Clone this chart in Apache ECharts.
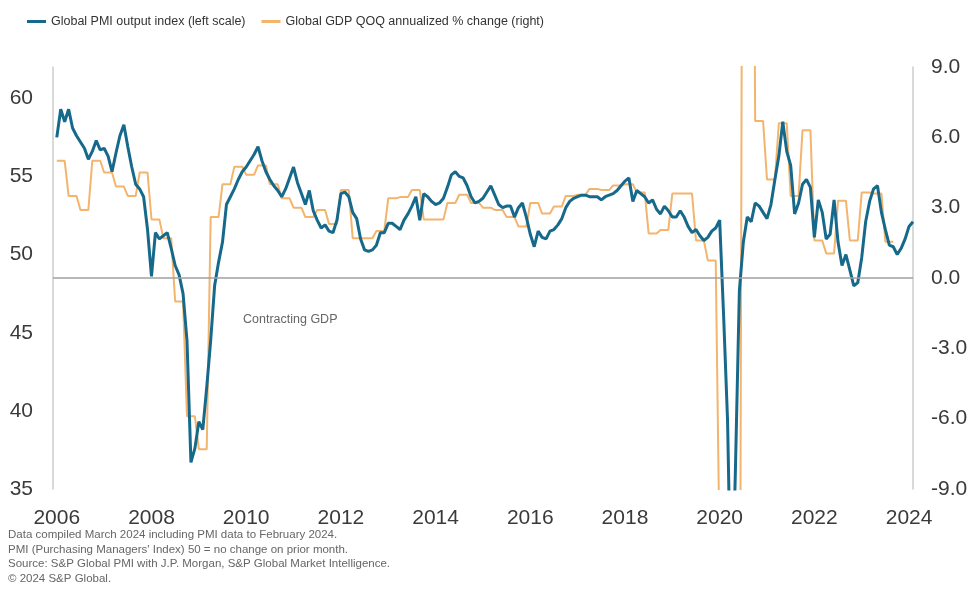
<!DOCTYPE html>
<html><head><meta charset="utf-8">
<script src="https://cdn.jsdelivr.net/npm/echarts@6/dist/echarts.min.js"></script>
<style>html,body{margin:0;padding:0;background:#fff}#c{width:973px;height:608px}</style>
</head><body><div id="c"></div>
<script>
// ---------------- DATA ----------------
const pmiName = 'Global PMI output index (left scale)';
const gdpName = 'Global GDP QOQ annualized % change (right)';
const xTickYears = [2006, 2008, 2010, 2012, 2014, 2016, 2018, 2020, 2022, 2024];
const leftTicks = [35, 40, 45, 50, 55, 60];
const rightTicks = [-9, -6, -3, 0, 3, 6, 9];

// Monthly PMI (Jan 2006 .. Feb 2024)
const pmi2006 = [57.5, 59.3, 58.5, 59.3, 58.1, 57.6, 57.2, 56.8, 56.1, 56.6, 57.3, 56.7];
const pmi2007 = [56.8, 56.3, 55.3, 56.5, 57.6, 58.3, 56.9, 55.6, 54.5, 54.2, 53.7, 51.6];
const pmi2008 = [48.6, 51.4, 51.0, 51.2, 51.4, 50.4, 49.3, 48.7, 47.5, 44.5, 36.7, 37.6];
const pmi2009 = [39.3, 38.8, 41.5, 44.5, 48.0, 49.5, 50.8, 53.2, 53.7, 54.2, 54.8, 55.3];
const pmi2010 = [55.6, 56.0, 56.4, 56.9, 56.0, 55.3, 54.8, 54.4, 54.1, 53.7, 54.2, 54.9];
const pmi2011 = [55.6, 54.6, 53.9, 53.2, 54.1, 52.8, 52.2, 51.7, 51.9, 51.5, 51.4, 52.2];
const pmi2012 = [53.9, 54.0, 53.7, 52.7, 52.3, 51.0, 50.3, 50.2, 50.3, 50.6, 51.4, 51.4];
const pmi2013 = [52.0, 52.0, 51.8, 51.6, 52.2, 52.6, 53.1, 53.7, 52.2, 53.9, 53.7, 53.4];
const pmi2014 = [53.2, 53.3, 53.6, 54.3, 55.1, 55.3, 55.0, 54.9, 54.4, 53.7, 53.3, 53.4];
const pmi2015 = [53.6, 54.0, 54.4, 53.8, 53.2, 53.0, 53.1, 53.1, 52.4, 53.0, 53.3, 52.4];
const pmi2016 = [51.3, 50.5, 51.5, 51.1, 51.0, 51.5, 51.6, 51.9, 52.3, 53.0, 53.4, 53.6];
const pmi2017 = [53.7, 53.8, 53.8, 53.7, 53.7, 53.7, 53.5, 53.7, 53.8, 53.9, 54.1, 54.4];
const pmi2018 = [54.7, 54.9, 53.4, 54.1, 53.9, 53.7, 53.3, 53.5, 52.9, 52.6, 53.1, 52.8];
const pmi2019 = [52.4, 52.4, 52.8, 52.4, 51.8, 51.4, 51.6, 51.2, 50.9, 51.1, 51.5, 51.7];
const pmi2020 = [52.2, 46.1, 39.4, 26.2, 36.3, 47.7, 50.8, 52.4, 52.1, 53.3, 53.1, 52.7];
const pmi2021 = [52.3, 53.2, 54.8, 56.3, 58.5, 56.6, 55.7, 52.6, 53.3, 54.5, 54.8, 54.3];
const pmi2022 = [51.1, 53.5, 52.7, 51.0, 51.3, 53.5, 50.8, 49.3, 50.0, 49.0, 48.0, 48.2];
const pmi2023 = [49.8, 52.1, 53.4, 54.2, 54.4, 52.7, 51.6, 50.6, 50.5, 50.0, 50.4, 51.0];
const pmi2024 = [51.8, 52.1];

// Quarterly GDP % change annualized (2006 Q1 .. 2023 Q3)
const gdp2006 = [5.0, 3.5, 2.9, 5.0];
const gdp2007 = [4.5, 3.9, 3.5, 4.5];
const gdp2008 = [2.5, 1.7, -1.0, -5.9];
const gdp2009 = [-7.3, 2.6, 4.0, 4.75];
const gdp2010 = [4.4, 4.8, 4.0, 3.4];
const gdp2011 = [3.0, 2.6, 2.9, 2.3];
const gdp2012 = [3.75, 1.7, 1.7, 2.0];
const gdp2013 = [3.4, 3.45, 3.75, 2.5];
const gdp2014 = [2.5, 3.2, 3.55, 3.2];
const gdp2015 = [3.0, 2.9, 2.6, 2.2];
const gdp2016 = [3.2, 2.75, 3.05, 3.5];
const gdp2017 = [3.55, 3.8, 3.75, 3.95];
const gdp2018 = [4.0, 3.65, 1.9, 2.05];
const gdp2019 = [3.6, 3.6, 1.6, 0.75];
const gdp2020 = [-12.0, -27.0, 36.0, 6.7];
const gdp2021 = [4.2, 6.6, 3.5, 6.3];
const gdp2022 = [1.6, 1.05, 3.3, 1.6];
const gdp2023 = [3.65, 3.6, 1.55];

const footnotes = [
  'Data compiled March 2024 including PMI data to February 2024.',
  "PMI (Purchasing Managers' Index) 50 = no change on prior month.",
  'Source: S&P Global PMI with J.P. Morgan, S&P Global Market Intelligence.',
  '\u00a9 2024 S&P Global.'
];
const annotation = 'Contracting GDP';

// ---------------- BUILD ----------------
const pmiMonthly = [].concat(pmi2006, pmi2007, pmi2008, pmi2009, pmi2010, pmi2011, pmi2012,
  pmi2013, pmi2014, pmi2015, pmi2016, pmi2017, pmi2018, pmi2019, pmi2020, pmi2021, pmi2022,
  pmi2023, pmi2024);
const gdpQuarterly = [].concat(gdp2006, gdp2007, gdp2008, gdp2009, gdp2010, gdp2011, gdp2012,
  gdp2013, gdp2014, gdp2015, gdp2016, gdp2017, gdp2018, gdp2019, gdp2020, gdp2021, gdp2022, gdp2023);

const pmiData = pmiMonthly.map((v, i) => [2006 + i / 12, v]);
const gdpData = [];
gdpQuarterly.forEach((v, q) => { for (let k = 0; k < 3; k++) gdpData.push([2006 + (3 * q + k) / 12, v]); });

const FONT = "'Liberation Sans',Arial,sans-serif";
const BLUE = '#16698a', ORANGE = '#f3b46e';

const chart = echarts.init(document.getElementById('c'), null, {renderer: 'canvas'});
chart.setOption({
  animation: false,
  backgroundColor: '#fff',
  textStyle: {fontFamily: FONT},
  legend: {
    top: 10, left: 22, itemWidth: 19, itemHeight: 3, itemGap: 16, icon: 'rect',
    textStyle: {fontSize: 12.5, color: '#333', fontFamily: FONT},
    data: [{name: pmiName, itemStyle: {color: BLUE}}, {name: gdpName, itemStyle: {color: ORANGE}}]
  },
  grid: {left: 53, right: 60, top: 67, bottom: 119, containLabel: false},
  xAxis: {
    type: 'value', min: 2005.92, max: 2024 + 1 / 12,
    axisLine: {show: false}, axisTick: {show: false, customValues: xTickYears}, splitLine: {show: false},
    axisLabel: {customValues: xTickYears, formatter: v => String(Math.round(v)), fontSize: 21,
      color: '#3a3a3a', margin: 19, fontFamily: FONT}
  },
  yAxis: [{
    type: 'value', position: 'left', min: 35, max: 62, interval: 5,
    axisLine: {show: true, lineStyle: {color: '#cccccc', width: 1.5}}, axisTick: {show: false},
    splitLine: {show: false},
    axisLabel: {formatter: v => (leftTicks.indexOf(v) >= 0 ? String(v) : ''), fontSize: 21,
      color: '#3a3a3a', margin: 20, fontFamily: FONT}
  }, {
    type: 'value', position: 'right', min: -9, max: 9, interval: 3,
    axisLine: {show: true, lineStyle: {color: '#cccccc', width: 1.5}}, axisTick: {show: false},
    splitLine: {show: false},
    axisLabel: {formatter: v => (rightTicks.indexOf(v) >= 0 ? v.toFixed(1) : ''), fontSize: 21,
      color: '#3a3a3a', margin: 18, fontFamily: FONT}
  }],
  graphic: [
    {type: 'text', left: 243, top: 313, silent: true,
      style: {text: annotation, fontSize: 12.5, fill: '#666', fontFamily: FONT}}
  ].concat(footnotes.map((t, i) => ({
    type: 'text', left: 8, top: 529 + i * 14.5, silent: true,
    style: {text: t, fontSize: 11.5, fill: '#666', fontFamily: FONT}
  }))),
  series: [{
    name: gdpName, type: 'line', yAxisIndex: 1, data: gdpData, showSymbol: false, symbol: 'none',
    lineStyle: {color: ORANGE, width: 2}, itemStyle: {color: ORANGE}, z: 2,
    markLine: {silent: true, symbol: ['none', 'none'], label: {show: false},
      lineStyle: {color: '#a0a0a0', width: 1.5, type: 'solid'}, data: [{yAxis: 0}]}
  }, {
    name: pmiName, type: 'line', yAxisIndex: 0, data: pmiData, showSymbol: false, symbol: 'none',
    lineStyle: {color: BLUE, width: 3}, itemStyle: {color: BLUE}, z: 3
  }]
});
</script></body></html>
